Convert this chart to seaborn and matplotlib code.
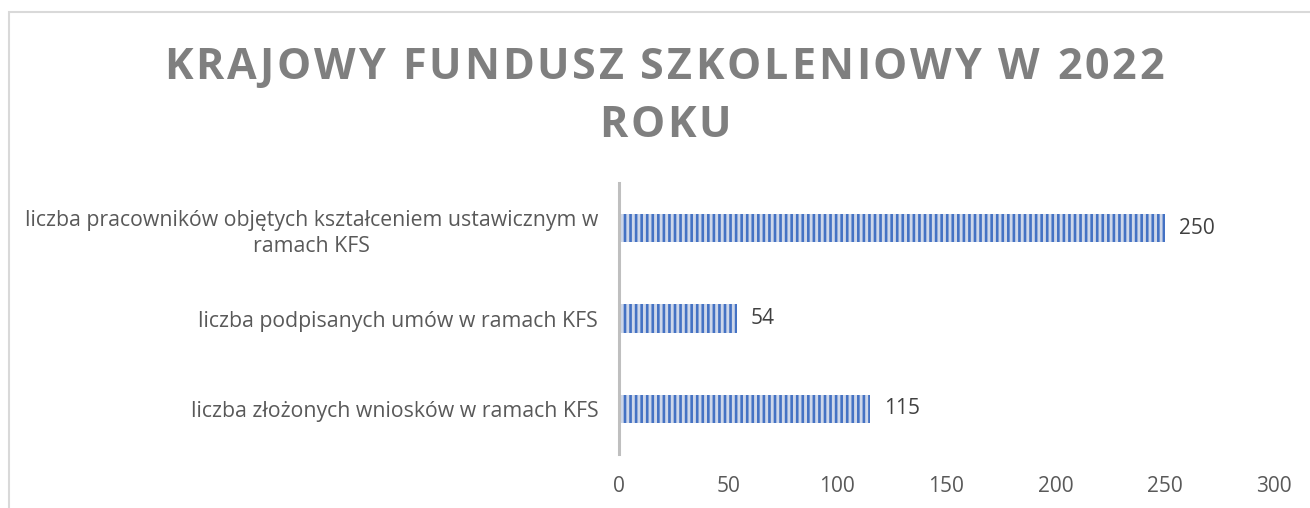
import pandas as pd
import matplotlib
matplotlib.use('Agg')
import matplotlib.pyplot as plt
import seaborn as sns
from matplotlib.patches import Rectangle

# data
categories = ['liczba pracowników objętych kształceniem ustawicznym w\nramach KFS',
              'liczba podpisanych umów w ramach KFS',
              'liczba złożonych wniosków w ramach KFS']
values = [250, 54, 115]
xticks = [0, 50, 100, 150, 200, 250, 300]
title_lines = ['KRAJOWY FUNDUSZ SZKOLENIOWY W 2022', 'ROKU']

W, H = 1310, 508

sns.set_theme(style='white')
plt.rcParams['font.family'] = ['Open Sans', 'DejaVu Sans']
plt.rcParams['hatch.linewidth'] = 1.9

df = pd.DataFrame({'label': categories, 'value': values})

fig = plt.figure(figsize=(W / 100, H / 100), dpi=100)
ax = fig.add_axes([619 / W, 1 - 454 / H, 655 / W, 271 / H])

sns.barplot(data=df, x='value', y='label', ax=ax, color='#c9d6ee', width=0.31, orient='h')
for p in ax.patches:
    p.set_hatch('|||')
    p.set_edgecolor('#4472c4')
    p.set_linewidth(0)

ax.bar_label(ax.containers[0], padding=10, fontsize=15, color='#404040')

ax.set_xlim(0, 300)
ax.set_xticks(xticks)
ax.set_xlabel('')
ax.set_ylabel('')
for s in ['top', 'right', 'bottom']:
    ax.spines[s].set_visible(False)
ax.spines['left'].set_color('#bfbfbf')
ax.spines['left'].set_linewidth(2.2)
ax.tick_params(axis='x', length=0, pad=16, labelsize=15, labelcolor='#595959')
ax.tick_params(axis='y', length=0, pad=15, labelsize=15.3, labelcolor='#595959')
for lab in ax.get_yticklabels():
    lab.set_multialignment('center')
    lab.set_linespacing(1.35)

# chart border (only top and left edges are inside the picture)
fig.patches.append(Rectangle((9 / W, -0.1), 1.2, 1 - 12 / H + 0.1, transform=fig.transFigure,
                             fill=False, edgecolor='#d9d9d9', linewidth=1.5))

# title with letter spacing, drawn char by char
renderer = fig.canvas.get_renderer()


def text_width(s, **kw):
    t = fig.text(0, 0, s, **kw)
    w = t.get_window_extent(renderer).width
    t.remove()
    return w


def spaced_title(s, xc, y_base, spacing, **kw):
    base = text_width('HH', **kw)
    adv = [text_width('H' + c + 'H', **kw) - base for c in s]
    total = sum(adv) + spacing * (len(s) - 1)
    x = xc - total / 2
    for c, a in zip(s, adv):
        fig.text((x + a / 2) / W, 1 - y_base / H, c, ha='center', va='baseline', **kw)
        x += a + spacing


tkw = dict(fontsize=31, fontweight='bold', color='#7f7f7f')
spaced_title(title_lines[0], 664, 79, 2.9, **tkw)
spaced_title(title_lines[1], 665, 137, 2.9, **tkw)

fig.savefig('out.png', dpi=100)
